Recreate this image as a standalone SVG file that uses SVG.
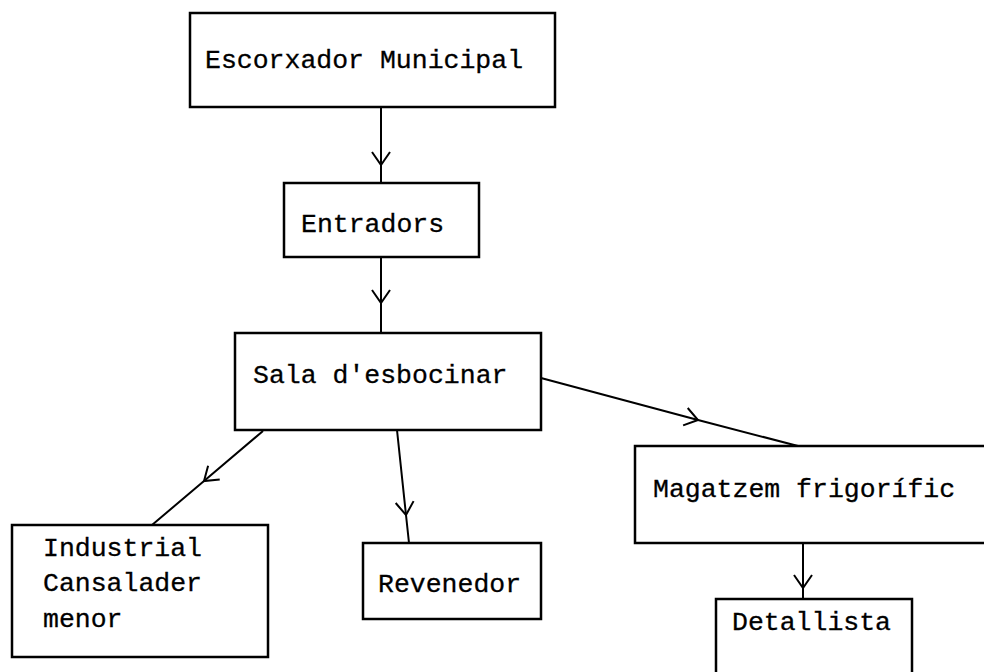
<svg xmlns="http://www.w3.org/2000/svg" width="984" height="672" viewBox="0 0 984 672">
  <defs>
    <style>
      .box { fill: none; stroke: #000; stroke-width: 2.5; }
      .lbl { font-family: "Liberation Mono", "Courier New", monospace; font-size: 26.5px; fill: #000; stroke: #000; stroke-width: 0.3; }
      .con { fill: none; stroke: #000; stroke-width: 2; marker-mid: url(#v); }
    </style>
    <marker id="v" markerUnits="userSpaceOnUse" markerWidth="30" markerHeight="30" refX="0" refY="0" viewBox="-15 -15 30 30" orient="auto" overflow="visible">
      <path d="M-13,-9 L0,0 L-13,9" fill="none" stroke="#000" stroke-width="2"/>
    </marker>
  </defs>
  <rect width="984" height="672" fill="#fff"/>

  <g id="connectors">
    <path class="con" d="M381,107 L381,165 L381,183"/>
    <path class="con" d="M381,257 L381,303 L381,333"/>
    <path class="con" d="M263,431 L204,481 L152,525"/>
    <path class="con" d="M397,430 L406,515 L409,543"/>
    <path class="con" d="M541,378 L698,420 L798,446"/>
    <path class="con" d="M803,543 L803,588 L803,599"/>
  </g>

  <g id="escorxador">
    <rect class="box" x="190" y="13" width="365" height="94"/>
    <text class="lbl" x="205" y="68">Escorxador Municipal</text>
  </g>
  <g id="entradors">
    <rect class="box" x="284" y="183" width="195" height="74"/>
    <text class="lbl" x="301" y="232">Entradors</text>
  </g>
  <g id="sala">
    <rect class="box" x="235" y="333" width="306" height="97"/>
    <text class="lbl" x="253" y="383">Sala d'esbocinar</text>
  </g>
  <g id="industrial">
    <rect class="box" x="12" y="525" width="256" height="132"/>
    <text class="lbl" x="43" y="556">Industrial</text>
    <text class="lbl" x="43" y="591">Cansalader</text>
    <text class="lbl" x="43" y="627">menor</text>
  </g>
  <g id="revenedor">
    <rect class="box" x="363" y="543" width="178" height="76"/>
    <text class="lbl" x="378" y="592">Revenedor</text>
  </g>
  <g id="magatzem">
    <rect class="box" x="635" y="446" width="380" height="97"/>
    <text class="lbl" x="653" y="497">Magatzem frigorífic</text>
  </g>
  <g id="detallista">
    <rect class="box" x="716" y="599" width="196" height="100"/>
    <text class="lbl" x="732" y="630">Detallista</text>
  </g>
</svg>
